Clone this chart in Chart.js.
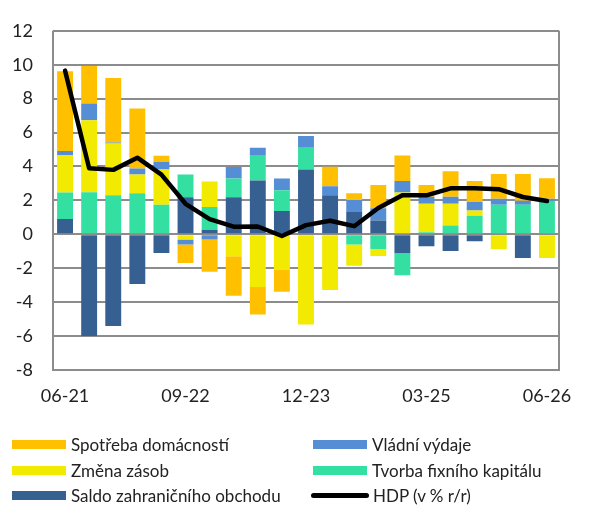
<!DOCTYPE html>
<html>
<head>
<meta charset="utf-8">
<script src="https://cdn.jsdelivr.net/npm/chart.js@4.4.1/dist/chart.umd.min.js"></script>
<style>
  html, body { margin: 0; padding: 0; background: #fff; }
  #wrap { position: relative; width: 591px; height: 513px; }
  canvas { position: absolute; left: 0; top: 0; }
  .item { position: absolute; height: 20px; display: flex; align-items: center;
          font-family: Lato, sans-serif; font-size: 17px; color: #222; white-space: nowrap; }
  .sw { width: 54px; height: 9px; margin-right: 5px; }
  .ln { width: 58px; height: 5px; border-radius: 3px; background: #000; margin-right: 4px; margin-left: -2px; }
</style>
</head>
<body>
<div id="wrap">
  <canvas id="c" width="591" height="513"></canvas>
  <div class="item" style="left:12px; top:434px;"><div class="sw" style="background:#FFC000"></div>Spotřeba domácností</div>
  <div class="item" style="left:313px; top:434px;"><div class="sw" style="background:#558ED5"></div>Vládní výdaje</div>
  <div class="item" style="left:12px; top:460px;"><div class="sw" style="background:#F2EA00"></div>Změna zásob</div>
  <div class="item" style="left:313px; top:460px;"><div class="sw" style="background:#34E0A1"></div>Tvorba fixního kapitálu</div>
  <div class="item" style="left:12px; top:485px;"><div class="sw" style="background:#366092"></div>Saldo zahraničního obchodu</div>
  <div class="item" style="left:313px; top:485px;"><div class="ln"></div>HDP (v % r/r)</div>
</div>
<script>
const categories = ["06-21","09-21","12-21","03-22","06-22","09-22","12-22","03-23","06-23","09-23","12-23","03-24","06-24","09-24","12-24","03-25","06-25","09-25","12-25","03-26","06-26"];
const saldo    = [0.90, -6.00, -5.41, -2.93, -1.10, 2.19, 0.27, 2.19, 3.18, 1.38, 3.82, 2.31, 1.32, 0.81, -1.12, -0.70, -0.99, -0.41, 0.00, -1.40, -0.06];
const tvorba   = [1.57, 2.48, 2.31, 2.42, 1.74, 1.34, 1.34, 1.10, 1.45, 1.22, 1.28, -0.06, -0.60, -0.87, -1.29, 0.12, 0.52, 1.10, 1.74, 1.74, 1.92];
const zasoby   = [2.21, 4.24, 3.04, 1.11, 2.08, -0.31, 1.51, -1.30, -3.10, -2.11, -5.31, -3.22, -1.26, -0.41, 2.46, 1.68, 1.28, 0.30, -0.87, 0.00, -1.34];
const vladni   = [0.23, 0.99, 0.06, 0.35, 0.46, -0.29, -0.31, 0.68, 0.47, 0.69, 0.69, 0.52, 0.70, 0.72, 0.68, 0.41, 0.41, 0.52, 0.35, 0.24, 0.17];
const spotreba = [4.71, 2.21, 3.81, 3.54, 0.35, -1.09, -1.90, -2.32, -1.63, -1.28, 0.00, 1.16, 0.40, 1.38, 1.51, 0.70, 1.51, 1.22, 1.46, 1.57, 1.22];
const hdp      = [9.65, 3.90, 3.80, 4.52, 3.52, 1.80, 0.90, 0.45, 0.46, -0.10, 0.54, 0.80, 0.48, 1.55, 2.30, 2.30, 2.71, 2.71, 2.66, 2.20, 1.96];
const yTicks = [-8,-6,-4,-2,0,2,4,6,8,10,12];

const frame = {
  id: 'frame',
  afterDatasetsDraw(chart) {
    const a = chart.chartArea, ctx = chart.ctx;
    ctx.save();
    ctx.strokeStyle = '#8c8c8c';
    ctx.lineWidth = 2;
    ctx.beginPath();
    ctx.moveTo(a.left, a.top);
    ctx.lineTo(a.left, a.bottom);
    ctx.lineTo(a.right, a.bottom);
    ctx.lineTo(a.right, a.top);
    ctx.stroke();
    ctx.restore();
  }
};

const barCommon = { type: 'bar', stack: 'gdp', order: 1, barPercentage: 0.66, categoryPercentage: 1.0, borderWidth: 0 };

new Chart(document.getElementById('c'), {
  data: {
    labels: categories,
    datasets: [
      { ...barCommon, label: 'Saldo zahraničního obchodu', data: saldo, backgroundColor: '#366092' },
      { ...barCommon, label: 'Tvorba fixního kapitálu', data: tvorba, backgroundColor: '#34E0A1' },
      { ...barCommon, label: 'Změna zásob', data: zasoby, backgroundColor: '#F2EA00' },
      { ...barCommon, label: 'Vládní výdaje', data: vladni, backgroundColor: '#558ED5' },
      { ...barCommon, label: 'Spotřeba domácností', data: spotreba, backgroundColor: '#FFC000' },
      { type: 'line', label: 'HDP (v % r/r)', data: hdp, stack: 'hdp', order: 0,
        borderColor: '#000', borderWidth: 4.5, pointRadius: 0, tension: 0,
        borderJoinStyle: 'round', borderCapStyle: 'round', fill: false }
    ]
  },
  options: {
    responsive: false,
    animation: false,
    devicePixelRatio: 1,
    layout: { padding: { left: 0, right: 32, top: 27, bottom: 103 } },
    plugins: { legend: { display: false }, tooltip: { enabled: false } },
    scales: {
      x: {
        stacked: true,
        grid: { display: false, drawTicks: false },
        border: { display: false },
        afterFit(s) { s.height = 40; },
        ticks: {
          autoSkip: false, maxRotation: 0, padding: 15,
          color: '#222', font: { family: 'Lato', size: 18 },
          callback(v, i) { return i % 5 === 0 ? categories[i] : ''; }
        }
      },
      y: {
        stacked: true,
        min: -8, max: 12,
        afterFit(s) { s.width = 53; },
        afterBuildTicks(s) { s.ticks = yTicks.map(v => ({ value: v })); },
        grid: { color: '#8c8c8c', lineWidth: 2, drawTicks: false },
        border: { display: false },
        ticks: { padding: 20, color: '#222', font: { family: 'Lato', size: 18 } }
      }
    }
  },
  plugins: [frame]
});
</script>
</body>
</html>
